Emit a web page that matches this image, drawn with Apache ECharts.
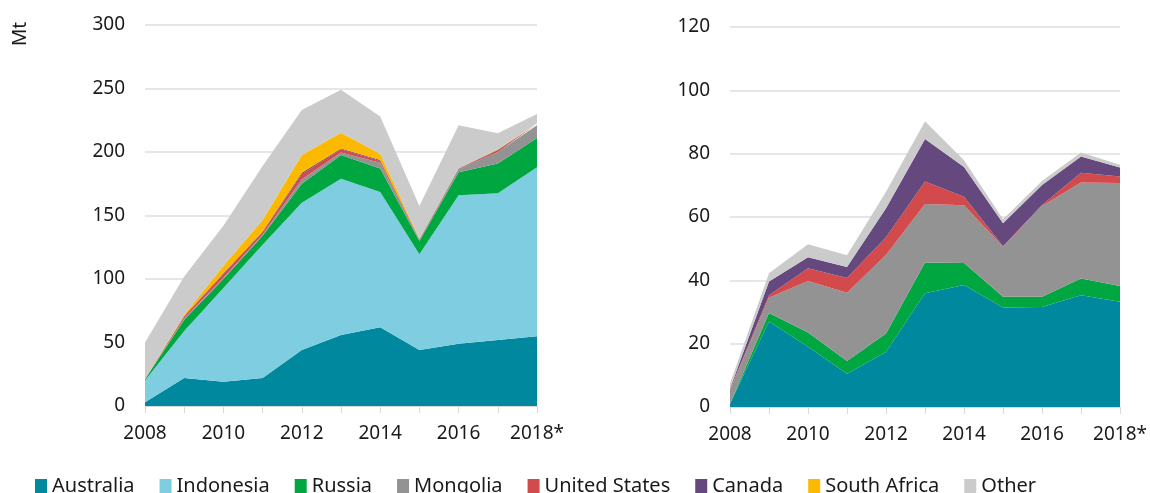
<!DOCTYPE html>
<html>
<head>
<meta charset="utf-8">
<script src="https://cdn.jsdelivr.net/npm/echarts@6/dist/echarts.min.js"></script>
<style>
  html, body { margin: 0; padding: 0; background: #fff; }
  #chart { width: 1150px; height: 493px; }
</style>
</head>
<body>
<div id="chart"></div>
<script>
// Categories
const years = ['2008', '2009', '2010', '2011', '2012', '2013', '2014', '2015', '2016', '2017', '2018*'];
const seriesNames = ['Australia', 'Indonesia', 'Russia', 'Mongolia', 'United States', 'Canada', 'South Africa', 'Other'];
const seriesColors = ['#00889e', '#7fcde1', '#00a63f', '#939393', '#d24a4b', '#65497e', '#fdb900', '#cbcbcb'];

// Left panel (Mt)
const leftAustralia = [3, 22, 19, 22, 44, 56, 62, 44, 49, 52, 55];
const leftIndonesia = [17, 37, 74, 105, 116, 123, 106.5, 75.5, 117, 115.5, 133];
const leftRussia = [1, 9, 7, 7, 15, 18.6, 18.5, 10.5, 18, 23.5, 23];
const leftMongolia = [0, 1, 1, 1, 3.5, 2, 4.5, 1, 2.4, 9, 10];
const leftUS = [0, 1.5, 3, 2, 3.9, 2.5, 1.5, 0.3, 0.3, 1.3, 1];
const leftCanada = [0, 0.3, 0.5, 0.5, 1.3, 0.6, 0.7, 0.2, 0.3, 0.5, 0.3];
const leftSouthAfrica = [0, 1, 6, 9, 14, 12.5, 5, 0.3, 0.3, 0.3, 0.3];
const leftOther = [29, 30.2, 31.5, 42.5, 35.3, 33.8, 29.3, 25.7, 33.7, 12.6, 7.4];

// Right panel (Mt)
const rightAustralia = [1, 27, 19, 10.5, 17.4, 35.9, 38.5, 31.4, 31.6, 35.3, 33.2];
const rightIndonesia = [0, 0, 0, 0, 0, 0, 0, 0, 0, 0, 0];
const rightRussia = [0, 2.7, 4.5, 4, 5.8, 9.7, 7, 3.4, 3.2, 5.3, 5];
const rightMongolia = [4.3, 4.8, 16.3, 21.6, 24.8, 18.5, 18.2, 15.8, 28.7, 30.3, 32.5];
const rightUS = [0.2, 0.8, 4, 4.6, 5.6, 7.1, 2.7, 0.2, 0.3, 3.1, 2.1];
const rightCanada = [0.3, 4.3, 3.5, 3.5, 9.2, 13.4, 9.4, 7.2, 6.3, 5.1, 2.8];
const rightSouthAfrica = [0, 0, 0, 0, 0, 0, 0, 0, 0, 0, 0];
const rightOther = [1.6, 2.6, 4.1, 3.7, 5.2, 5.6, 2.1, 1.3, 1.3, 1.3, 0.9];

const leftData = [leftAustralia, leftIndonesia, leftRussia, leftMongolia, leftUS, leftCanada, leftSouthAfrica, leftOther];
const rightData = [rightAustralia, rightIndonesia, rightRussia, rightMongolia, rightUS, rightCanada, rightSouthAfrica, rightOther];

const FONT = 'Noto Sans';
const textColor = '#1a1a1a';

function buildSeries(dataSet, idx, stackName) {
    return dataSet.map((values, i) => ({
        name: seriesNames[i],
        type: 'line',
        stack: stackName,
        xAxisIndex: idx,
        yAxisIndex: idx,
        data: values,
        symbol: 'none',
        smooth: false,
        lineStyle: { width: 0 },
        areaStyle: { color: seriesColors[i], opacity: 1 },
        itemStyle: { color: seriesColors[i] },
        emphasis: { disabled: true }
    }));
}

function xAxisCfg(gridIndex) {
    return {
        type: 'category',
        gridIndex: gridIndex,
        data: years,
        boundaryGap: false,
        axisLine: { lineStyle: { color: '#d9d9d9', width: 1 } },
        axisTick: { show: true, interval: 0, length: 7, lineStyle: { color: '#d9d9d9' } },
        axisLabel: { interval: 1, color: textColor, fontFamily: FONT, fontSize: 19, margin: 18 },
        splitLine: { show: false }
    };
}

function yAxisCfg(gridIndex, max, interval) {
    return {
        type: 'value',
        gridIndex: gridIndex,
        min: 0,
        max: max,
        interval: interval,
        axisLine: { show: false },
        axisTick: { show: false },
        axisLabel: { color: textColor, fontFamily: FONT, fontSize: 19, margin: 20 },
        splitLine: { lineStyle: { color: '#dedede', width: 1.5 } }
    };
}

const chart = echarts.init(document.getElementById('chart'));

const option = {
    backgroundColor: '#fff',
    animation: false,
    grid: [
        { left: 145, top: 25, width: 392, height: 381 },
        { left: 730, top: 27, width: 391, height: 380 }
    ],
    xAxis: [xAxisCfg(0), xAxisCfg(1)],
    yAxis: [yAxisCfg(0, 300, 50), yAxisCfg(1, 120, 20)],
    legend: {
        data: seriesNames,
        left: 30,
        top: 471,
        icon: 'rect',
        itemWidth: 12,
        itemHeight: 14,
        itemGap: 25,
        textStyle: { color: textColor, fontFamily: FONT, fontSize: 20 },
        selectedMode: false
    },
    graphic: [
        {
            type: 'text',
            x: 11,
            y: 46,
            rotation: Math.PI / 2,
            style: { text: 'Mt', fill: textColor, font: '19px "Noto Sans"' }
        }
    ],
    series: buildSeries(leftData, 0, 'L').concat(buildSeries(rightData, 1, 'R'))
};

chart.setOption(option);
</script>
</body>
</html>
